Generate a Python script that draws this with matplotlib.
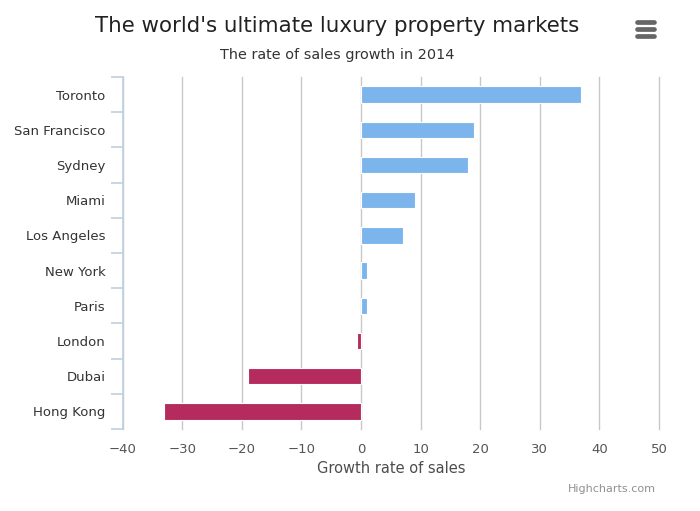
import matplotlib
matplotlib.use('Agg')
import matplotlib.pyplot as plt
from matplotlib.lines import Line2D

# Data
cities = ['Toronto', 'San Francisco', 'Sydney', 'Miami', 'Los Angeles',
          'New York', 'Paris', 'London', 'Dubai', 'Hong Kong']
growth = [37, 19, 18, 9, 7, 1, 1, -0.7, -19, -33]
x_ticks = [-40, -30, -20, -10, 0, 10, 20, 30, 40, 50]

pos_color = '#7cb5ec'
neg_color = '#b52b5d'

plt.rcParams['font.family'] = ['DejaVu Sans']

fig = plt.figure(figsize=(7, 5.11), dpi=100)
ax = fig.add_axes([0.1753, 0.1605, 0.766, 0.6888])

colors = [pos_color if v >= 0 else neg_color for v in growth]
ax.barh(range(len(cities)), growth, height=0.47, color=colors,
        edgecolor='white', linewidth=0.8, zorder=3)

ax.set_xlim(-40, 50)
ax.set_ylim(len(cities) - 0.5, -0.5)
ax.set_xticks(x_ticks)
ax.set_xticklabels(['\u2212' + str(-t) if t < 0 else str(t) for t in x_ticks],
                   fontsize=9.5, color='#555555')
ax.tick_params(axis='x', length=0, pad=10)

ax.set_yticks(range(len(cities)))
ax.set_yticklabels(cities, fontsize=9.5, color='#333333')
ax.set_yticks([i - 0.5 for i in range(len(cities) + 1)], minor=True)
ax.tick_params(axis='y', which='major', length=0, pad=12.5)
ax.tick_params(axis='y', which='minor', length=9, color='#c0d0e0', width=1.2)

ax.grid(axis='x', color='#c8c8c8', linewidth=1, zorder=0)
for gl in ax.get_xgridlines():
    gl.set_clip_on(False)

for side in ['top', 'right', 'bottom']:
    ax.spines[side].set_visible(False)
ax.spines['left'].set_color('#c0d0e0')
ax.spines['left'].set_linewidth(1.2)

ax.set_xlabel('Growth rate of sales', fontsize=10.5, color='#4d4d4d', labelpad=4)

fig.text(0.481, 0.949, "The world's ultimate luxury property markets",
         ha='center', va='center', fontsize=15.4, color='#222222')
fig.text(0.481, 0.892, 'The rate of sales growth in 2014',
         ha='center', va='center', fontsize=10.4, color='#333333')
fig.text(0.937, 0.043, 'Highcharts.com', ha='right', va='center',
         fontsize=8, color='#909090')

# menu icon
for yy in [0.930, 0.943, 0.956]:
    fig.add_artist(Line2D([0.910, 0.934], [yy, yy], color='#666666',
                          linewidth=3.4, solid_capstyle='round',
                          transform=fig.transFigure))

fig.savefig('out.png', dpi=100)
